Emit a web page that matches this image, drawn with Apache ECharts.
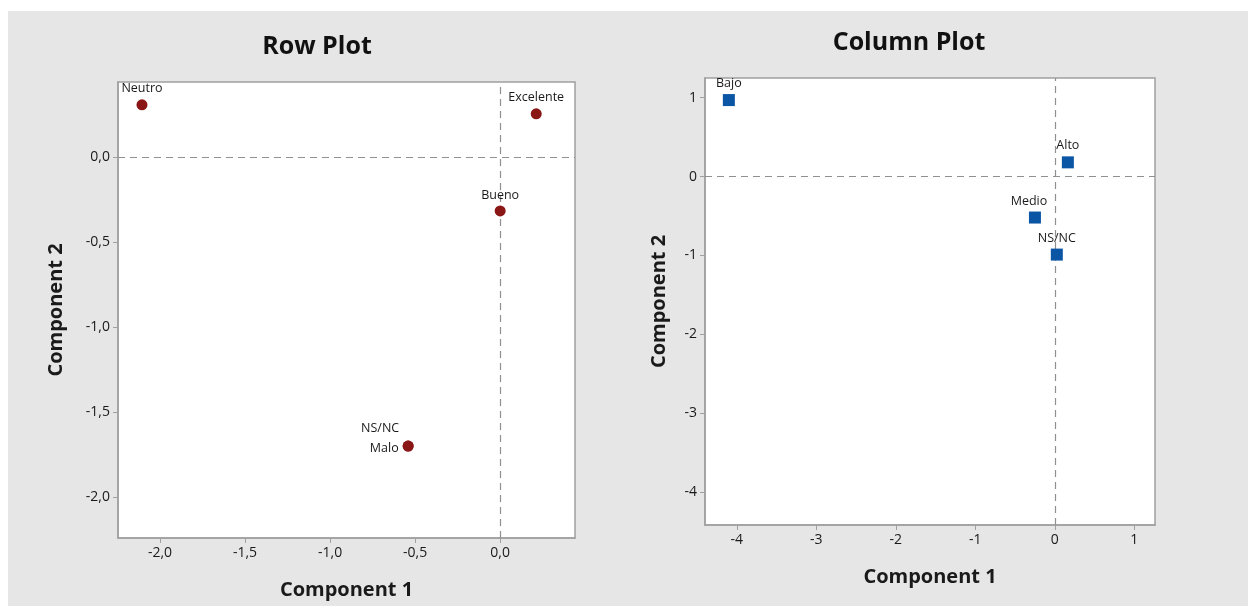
<!DOCTYPE html>
<html><head><meta charset="utf-8">
<script src="https://cdn.jsdelivr.net/npm/echarts@6/dist/echarts.min.js"></script>
<style>html,body{margin:0;padding:0;background:#fff}#c{width:1248px;height:606px}</style>
</head><body><div id="c"></div>
<script>
const rowNames = ['Neutro','Excelente','Bueno','NS/NC','Malo'];
const rowX = [-2.106, 0.212, 0.0, -0.541, -0.541];
const rowY = [0.306, 0.253, -0.318, -1.70, -1.70];
const colNames = ['Bajo','Alto','Medio','NS/NC'];
const colX = [-4.10, 0.164, -0.25, 0.025];
const colY = [0.97, 0.18, -0.52, -0.99];
const rowTicksX = [-2.0,-1.5,-1.0,-0.5,0.0];
const rowTicksY = [0.0,-0.5,-1.0,-1.5,-2.0];
const colTicksX = [-4,-3,-2,-1,0,1];
const colTicksY = [1,0,-1,-2,-3,-4];

const FONT = 'Open Sans';
const rowLabelPos = {'Neutro':['top',[0,0]],'Excelente':['top',[0,0]],'Bueno':['top',[0,0]],'NS/NC':['top',[-28,-2]],'Malo':['left',[0,2]]};
const colLabelPos = {'Bajo':['top',[0,0]],'Alto':['top',[0,0]],'Medio':['top',[-6,0]],'NS/NC':['top',[0,0]]};

function fmt1(v){return v.toFixed(1).replace('.',',');}
function axisCommon(custom, formatter){
  return {
    axisLine:{show:true,onZero:false,lineStyle:{color:'#a0a0a0',width:1.5}},
    axisTick:{show:true,inside:false,length:5,customValues:custom,lineStyle:{color:'#a0a0a0'}},
    axisLabel:{customValues:custom,formatter:formatter,color:'#1a1a1a',fontSize:14,fontFamily:FONT,margin:8},
    splitLine:{show:false},
    nameTextStyle:{color:'#1a1a1a',fontSize:20,fontWeight:'bold',fontFamily:FONT},
    nameLocation:'middle'
  };
}
const dashedMark = {
  silent:true, symbol:['none','none'], label:{show:false},
  lineStyle:{color:'#909090',type:[7,5],width:1.2},
  data:[{xAxis:0},{yAxis:0}]
};
const labelStyle = {color:'#1a1a1a',fontSize:12.5,fontFamily:FONT,distance:4};

const chart = echarts.init(document.getElementById('c'),null,{renderer:'canvas'});
chart.setOption({
  backgroundColor:'#ffffff',
  animation:false,
  graphic:[{type:'rect',shape:{x:8,y:11,width:1240,height:595},style:{fill:'#e6e6e6'},z:-10,silent:true}],
  title:[
    {text:'Row Plot',left:312,top:29,textAlign:'center',textStyle:{fontSize:25,fontWeight:'bold',color:'#111',fontFamily:FONT}},
    {text:'Column Plot',left:904,top:25,textAlign:'center',textStyle:{fontSize:25,fontWeight:'bold',color:'#111',fontFamily:FONT}}
  ],
  grid:[
    {left:118,top:82,width:457,height:456,show:true,backgroundColor:'#fff',borderColor:'#a0a0a0',borderWidth:1.5},
    {left:705,top:78,width:450,height:447,show:true,backgroundColor:'#fff',borderColor:'#a0a0a0',borderWidth:1.5}
  ],
  xAxis:[
    Object.assign(axisCommon(rowTicksX,fmt1),{type:'value',gridIndex:0,min:-2.247,max:0.44,name:'Component 1',nameGap:42}),
    Object.assign(axisCommon(colTicksX,v=>String(v)),{type:'value',gridIndex:1,min:-4.40,max:1.26,name:'Component 1',nameGap:42})
  ],
  yAxis:[
    Object.assign(axisCommon(rowTicksY,fmt1),{type:'value',gridIndex:0,min:-2.24,max:0.44,name:'Component 2',nameGap:52}),
    Object.assign(axisCommon(colTicksY,v=>String(v)),{type:'value',gridIndex:1,min:-4.42,max:1.25,name:'Component 2',nameGap:36})
  ],
  series:[
    {type:'scatter',xAxisIndex:0,yAxisIndex:0,data:[],z:1,markLine:dashedMark},
    {type:'scatter',xAxisIndex:1,yAxisIndex:1,data:[],z:1,markLine:dashedMark},
    {type:'scatter',xAxisIndex:0,yAxisIndex:0,symbol:'circle',symbolSize:11,z:5,
     itemStyle:{color:'#8b1616',opacity:1},
     data:rowNames.map((n,i)=>({name:n,value:[rowX[i],rowY[i]],
       label:Object.assign({show:true,position:rowLabelPos[n][0],offset:rowLabelPos[n][1],formatter:n},labelStyle)}))},
    {type:'scatter',xAxisIndex:1,yAxisIndex:1,symbol:'rect',symbolSize:12,z:5,
     itemStyle:{color:'#0b55a5',opacity:1},
     data:colNames.map((n,i)=>({name:n,value:[colX[i],colY[i]],
       label:Object.assign({show:true,position:colLabelPos[n][0],offset:colLabelPos[n][1],formatter:n},labelStyle)}))}
  ]
});
</script></body></html>
